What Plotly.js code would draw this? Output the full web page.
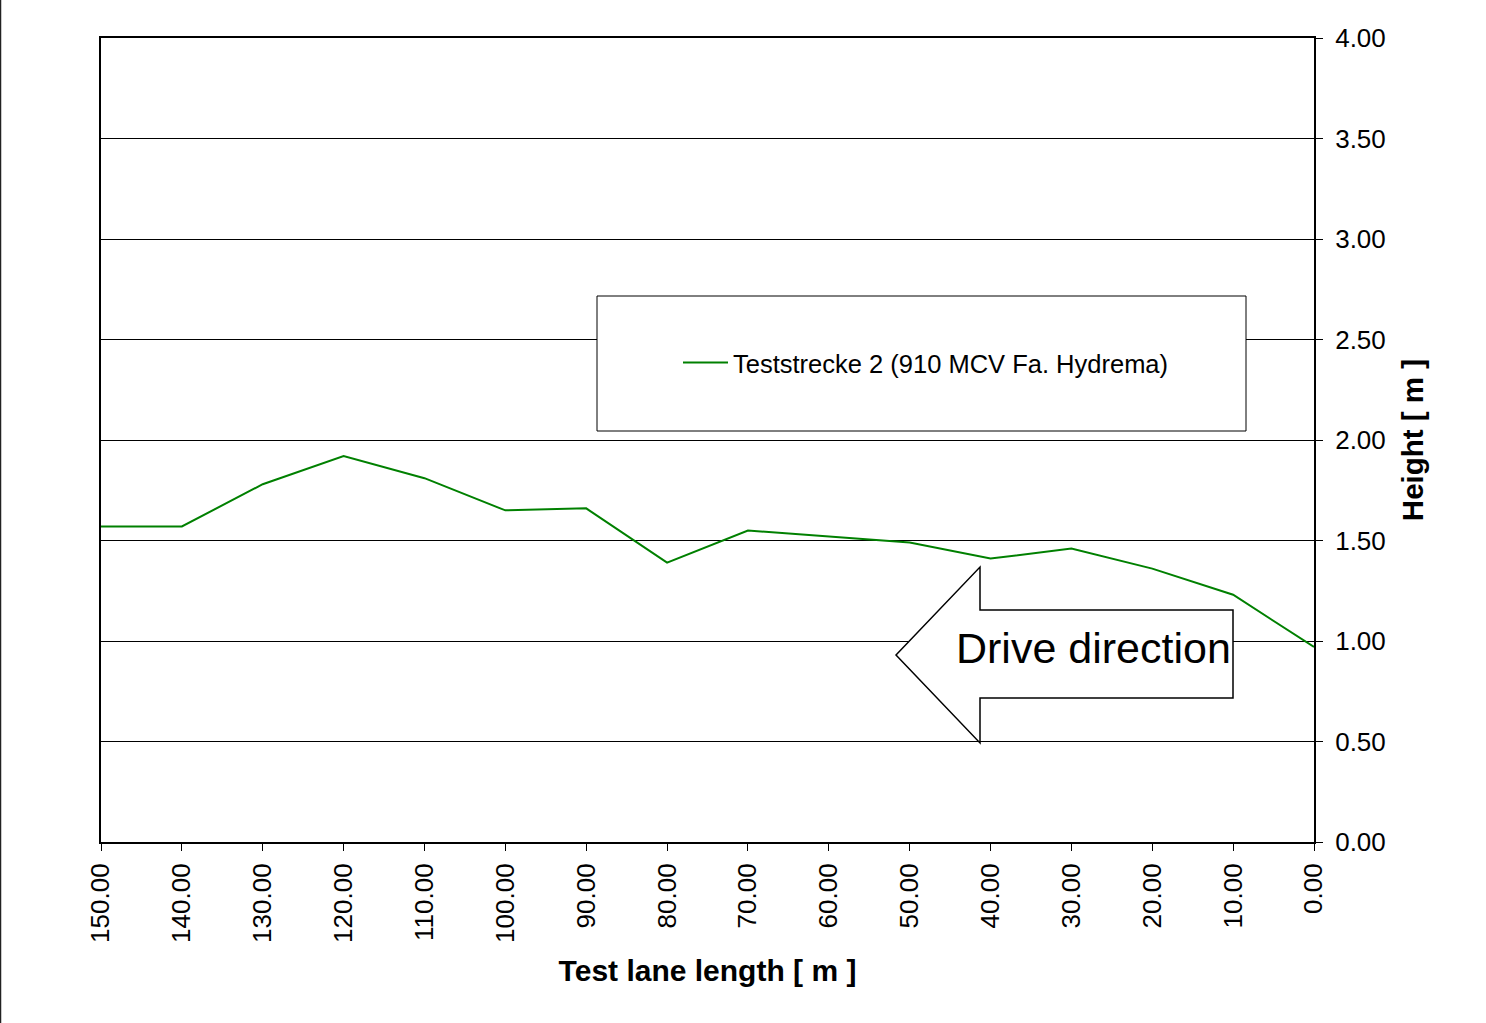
<!DOCTYPE html>
<html>
<head>
<meta charset="utf-8">
<script src="https://cdn.plot.ly/plotly-3.0.1.min.js"></script>
<style>html,body{margin:0;padding:0;background:#fff;}#chart{width:1486px;height:1023px;}</style>
</head>
<body>
<div id="chart"></div>
<script>
const lengthM = [150, 140, 130, 120, 110, 100, 90, 80, 70, 60, 50, 40, 30, 20, 10, 0];
const heightM = [1.57, 1.57, 1.78, 1.92, 1.81, 1.65, 1.66, 1.39, 1.55, 1.52, 1.49, 1.41, 1.46, 1.36, 1.23, 0.97];
const seriesName = 'Teststrecke 2 (910 MCV Fa. Hydrema)';
const xTicks = [150, 140, 130, 120, 110, 100, 90, 80, 70, 60, 50, 40, 30, 20, 10, 0];
const yTicks = [0, 0.5, 1, 1.5, 2, 2.5, 3, 3.5, 4];
const xTitle = 'Test lane length [ m ]';
const yTitle = 'Height [ m ]';
const arrowLabel = 'Drive direction';

const FONT = 'Liberation Sans, Arial, sans-serif';
const L = 101, R = 1314, T = 38, B = 842;
const W = R - L, H = B - T;
const px = x => (x - L) / W;
const py = y => (B - y) / H;

const trace = {
  x: lengthM, y: heightM, type: 'scatter', mode: 'lines', name: seriesName,
  line: {color: '#008000', width: 2}
};

const arrowPath = 'M ' + px(896) + ',' + py(655) +
  ' L ' + px(980) + ',' + py(567) +
  ' L ' + px(980) + ',' + py(610) +
  ' L ' + px(1233) + ',' + py(610) +
  ' L ' + px(1233) + ',' + py(698) +
  ' L ' + px(980) + ',' + py(698) +
  ' L ' + px(980) + ',' + py(743) + ' Z';

const layout = {
  width: 1486, height: 1023,
  margin: {l: L, r: 1486 - R, t: T, b: 1023 - B, pad: 0},
  paper_bgcolor: '#fff', plot_bgcolor: '#fff',
  font: {family: FONT, color: '#000', size: 22},
  showlegend: true,
  legend: {
    x: px(678), y: py(363), xanchor: 'left', yanchor: 'middle',
    bgcolor: 'rgba(0,0,0,0)', borderwidth: 0, itemwidth: 45,
    font: {family: FONT, size: 25.5, color: '#000'}
  },
  xaxis: {
    range: [150, 0], tickmode: 'array', tickvals: xTicks, tickformat: '.2f',
    tickangle: -90, ticks: 'outside', ticklen: 7, tickcolor: '#000', tickwidth: 1,
    ticklabelstandoff: 2,
    showline: true, linecolor: '#000', linewidth: 2, mirror: true,
    showgrid: false, zeroline: false,
    tickfont: {family: FONT, size: 26, color: '#000'},
    title: {text: '<b>' + xTitle + '</b>', font: {family: FONT, size: 30, color: '#000'}, standoff: 18}
  },
  yaxis: {
    range: [0, 4], side: 'right', tickmode: 'array', tickvals: yTicks, tickformat: '.2f',
    ticks: 'outside', ticklen: 7, tickcolor: '#000', tickwidth: 1,
    ticklabelstandoff: 7,
    showline: true, linecolor: '#000', linewidth: 2, mirror: true,
    showgrid: true, gridcolor: '#000', gridwidth: 1, zeroline: false,
    tickfont: {family: FONT, size: 26, color: '#000'},
    title: {text: '<b>' + yTitle + '</b>', font: {family: FONT, size: 29.5, color: '#000'}, standoff: 18}
  },
  shapes: [
    {type: 'rect', xref: 'paper', yref: 'paper', x0: px(597), x1: px(1246), y0: py(431), y1: py(296),
     line: {color: '#000', width: 1}, fillcolor: '#fff', layer: 'above'},
    {type: 'path', xref: 'paper', yref: 'paper', path: arrowPath,
     line: {color: '#000', width: 1.5}, fillcolor: '#fff', layer: 'above'},
    {type: 'line', xref: 'paper', yref: 'paper', x0: px(0.5), x1: px(0.5), y0: py(0), y1: py(1023),
     line: {color: '#222', width: 1.5}}
  ],
  annotations: [
    {xref: 'paper', yref: 'paper', x: px(1093.5), y: py(648), xanchor: 'center', yanchor: 'middle',
     text: arrowLabel, showarrow: false, font: {family: FONT, size: 43, color: '#000'}}
  ]
};

Plotly.newPlot('chart', [trace], layout, {displayModeBar: false, staticPlot: true});
</script>
</body>
</html>
